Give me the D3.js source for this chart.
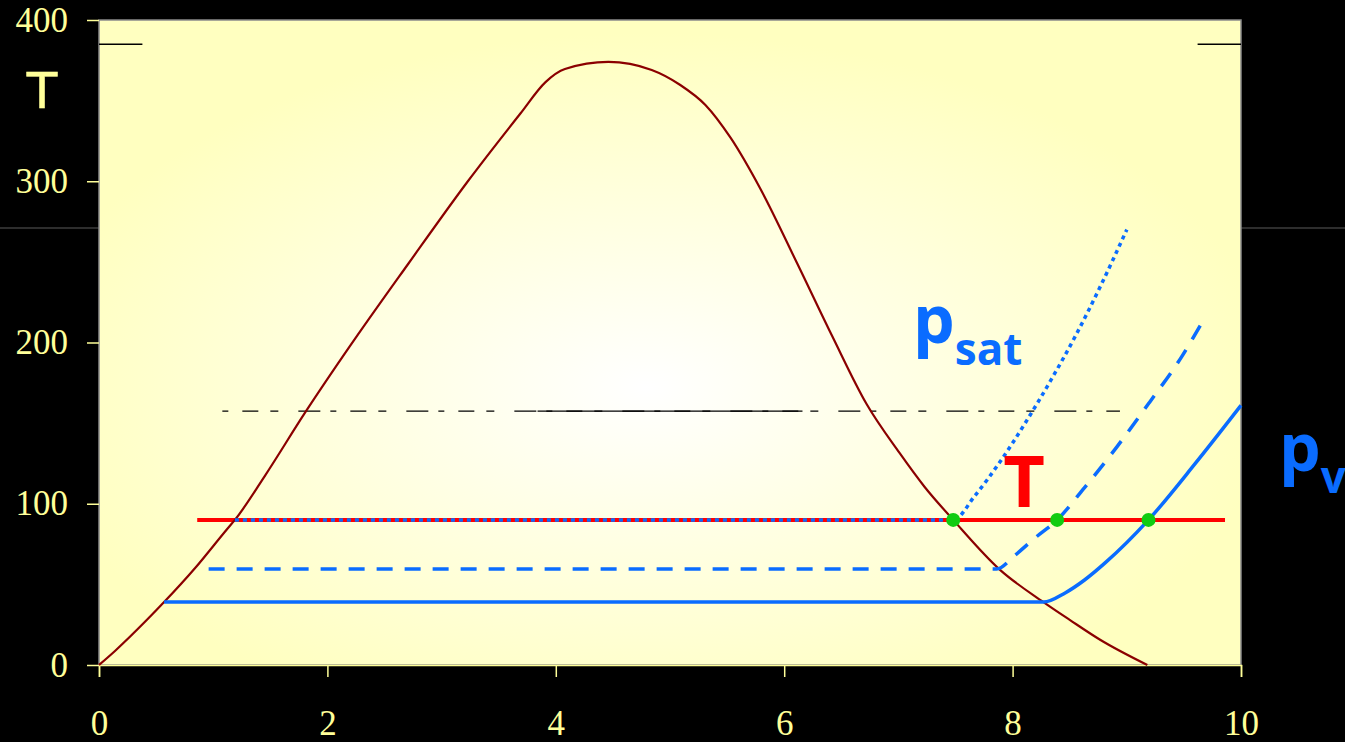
<!DOCTYPE html>
<html>
<head>
<meta charset="utf-8" />
<title>T - p chart</title>
<script src="https://cdn.jsdelivr.net/npm/d3@7"></script>
<style>
  html, body { margin: 0; padding: 0; background: #000; }
  #chart { width: 1345px; height: 742px; }
  .tick text { font-family: "Liberation Serif", "Times New Roman", serif; }
</style>
</head>
<body>
<div id="chart"></div>
<script>
// saturation dome
var domeX = [0, 0.14, 0.42, 0.57, 0.84, 1.13, 1.19, 1.45, 1.80, 2.20, 2.71, 3.23, 3.69, 3.91, 4.08, 4.46, 4.84, 5.09, 5.31, 5.53, 5.79, 6.11, 6.42, 6.72, 7.01, 7.23, 7.48, 7.89, 8.27, 8.5, 8.77, 9.18];
var domeT = [0, 8.7, 28, 39, 60, 85, 90, 117, 156, 198, 249, 300, 342, 361.5, 369.6, 374, 369, 359.7, 347.3, 327, 295.5, 249.6, 204, 162, 131.5, 110.4, 90, 59, 39, 28, 15.5, 0];

// p_sat (dotted)
var psatX = [1.19, 7.48, 7.67, 7.89, 8.11, 8.33, 8.55, 8.77, 9.0];
var psatT = [90, 90, 105, 126, 150, 176, 204, 235, 270];
// dashed p_v
var pvDashX = [0.96, 7.86, 8.02, 8.20, 8.39, 8.63, 8.91, 9.20, 9.47, 9.68];
var pvDashT = [59.5, 59.5, 68, 79, 90, 110, 135, 163, 190, 215];
// solid p_v
var pvX = [0.57, 8.27, 8.46, 8.63, 8.81, 9.19, 9.60, 10.0];
var pvT = [39, 39, 44.7, 52.7, 63.3, 90, 125, 161];

// red isotherm T
var tLineX = [0.86, 9.86];
var tValue = 90;
var crossX = [7.48, 8.39, 9.19];

// black reference lines
var refT = 157.5, refDashX = [1.08, 8.94], refSolidX = [3.84, 6.16];
var topT = 385, topSegs = [[0, 0.38], [9.62, 10]];

var xTicks = [0, 2, 4, 6, 8, 10];
var yTicks = [0, 100, 200, 300, 400];

var width = 1345, height = 742;
var margin = {top: 20, right: 104, bottom: 77, left: 99};
var w = width - margin.left - margin.right,
    h = height - margin.top - margin.bottom;

var svg = d3.select("#chart").append("svg")
    .attr("width", width)
    .attr("height", height);

svg.append("rect").attr("width", width).attr("height", height).attr("fill", "#000");
// thin grey rule across the slide
svg.append("line")
    .attr("x1", 0).attr("x2", width).attr("y1", 228).attr("y2", 228)
    .attr("stroke", "#5a5a5a").attr("stroke-width", 1.2);

var defs = svg.append("defs");
var grad = defs.append("radialGradient").attr("id", "bg")
    .attr("cx", "48%").attr("cy", "57%").attr("r", "55%");
grad.append("stop").attr("offset", "0%").attr("stop-color", "#ffffff");
grad.append("stop").attr("offset", "100%").attr("stop-color", "#ffffc0");

var x = d3.scaleLinear().domain([0, 10]).range([0, w]);
var y = d3.scaleLinear().domain([0, 400]).range([h, 0]);

var g = svg.append("g").attr("transform", "translate(" + margin.left + "," + margin.top + ")");

g.append("rect").attr("width", w).attr("height", h)
    .attr("fill", "url(#bg)").attr("stroke", "#8a8a8a").attr("stroke-width", 1.5);

// axes
var xAxis = g.append("g").attr("transform", "translate(0," + h + ")")
    .call(d3.axisBottom(x).tickValues(xTicks).tickSize(12).tickPadding(33));
var yAxis = g.append("g")
    .call(d3.axisLeft(y).tickValues(yTicks).tickSize(12).tickPadding(19));
[xAxis, yAxis].forEach(function(a) {
    a.selectAll("line").attr("stroke", "#ffff99").attr("stroke-width", 1.5);
    a.selectAll("text").attr("fill", "#ffff99").attr("font-size", 35);
});
xAxis.select(".domain").attr("stroke", "#ffff99").attr("stroke-width", 1.5);
yAxis.select(".domain").remove();

// black reference lines
g.append("line")
    .attr("x1", x(refDashX[0])).attr("x2", x(refDashX[1]))
    .attr("y1", y(refT)).attr("y2", y(refT))
    .attr("stroke", "#000").attr("stroke-width", 1.3)
    .attr("stroke-dasharray", "6,14,16,12,8,20,22,10");
g.append("line")
    .attr("x1", x(refSolidX[0])).attr("x2", x(refSolidX[1]))
    .attr("y1", y(refT)).attr("y2", y(refT))
    .attr("stroke", "#000").attr("stroke-width", 1.3);
topSegs.forEach(function(s) {
    g.append("line")
        .attr("x1", x(s[0])).attr("x2", x(s[1]))
        .attr("y1", y(topT)).attr("y2", y(topT))
        .attr("stroke", "#000").attr("stroke-width", 1.5);
});

// red isotherm
g.append("line")
    .attr("x1", x(tLineX[0])).attr("x2", x(tLineX[1]))
    .attr("y1", y(tValue)).attr("y2", y(tValue))
    .attr("stroke", "#ff0000").attr("stroke-width", 4);

var smooth = d3.line().curve(d3.curveMonotoneX)
    .x(function(d) { return x(d[0]); })
    .y(function(d) { return y(d[1]); });

// saturation dome
g.append("path").datum(d3.zip(domeX, domeT))
    .attr("d", smooth).attr("fill", "none")
    .attr("stroke", "#8b0000").attr("stroke-width", 2.2);

var blue = "#0a6cff";
g.append("path").datum(d3.zip(pvX, pvT))
    .attr("d", smooth).attr("fill", "none")
    .attr("stroke", blue).attr("stroke-width", 3.5);
g.append("path").datum(d3.zip(pvDashX, pvDashT))
    .attr("d", smooth).attr("fill", "none")
    .attr("stroke", blue).attr("stroke-width", 3.5)
    .attr("stroke-dasharray", "16,12");
g.append("path").datum(d3.zip(psatX, psatT))
    .attr("d", smooth).attr("fill", "none")
    .attr("stroke", blue).attr("stroke-width", 3.5)
    .attr("stroke-dasharray", "4,4");

// intersection points
g.selectAll(".dot").data(crossX).enter().append("circle")
    .attr("class", "dot")
    .attr("cx", function(d) { return x(d); })
    .attr("cy", y(tValue))
    .attr("r", 7)
    .attr("fill", "#11cc11");

// labels
svg.append("text").attr("x", 42).attr("y", 108)
    .attr("text-anchor", "middle")
    .attr("font-family", "DejaVu Sans, sans-serif").attr("font-size", 50)
    .attr("fill", "#ffff99").attr("stroke", "#ffff99").attr("stroke-width", 0.5)
    .text("T");

svg.append("text").attr("x", 1024).attr("y", 507)
    .attr("text-anchor", "middle")
    .attr("font-family", "Open Sans, sans-serif").attr("font-weight", "bold").attr("font-size", 72)
    .attr("fill", "#ff0000")
    .text("T");

function pLabel(px, py, sub) {
    var t = svg.append("text").attr("x", px).attr("y", py)
        .attr("font-family", "Open Sans, sans-serif").attr("font-weight", "bold")
        .attr("fill", blue);
    t.append("tspan").attr("font-size", 66).text("p");
    t.append("tspan").attr("font-size", 44).attr("dy", 22).text(sub);
}
pLabel(913, 343, "sat");
pLabel(1279, 471, "v");
</script>
</body>
</html>
